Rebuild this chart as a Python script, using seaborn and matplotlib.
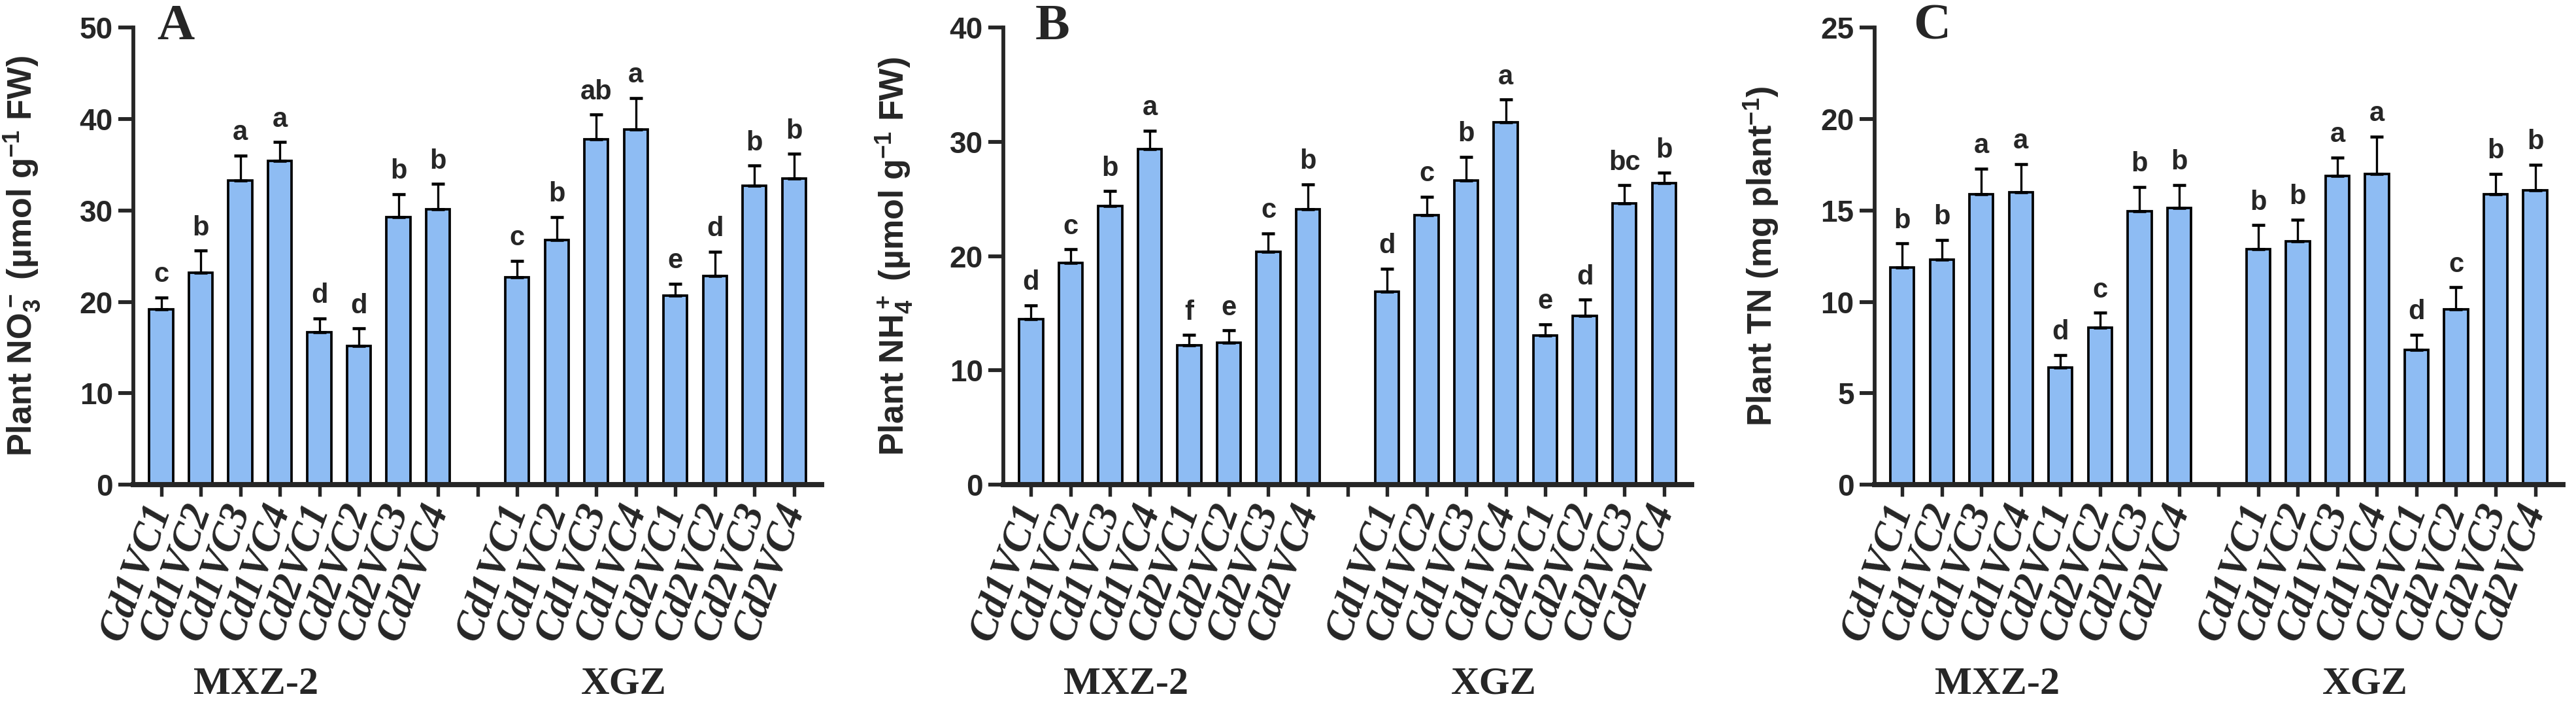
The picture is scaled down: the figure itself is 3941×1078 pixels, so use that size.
import numpy as np
import pandas as pd
import matplotlib
matplotlib.use("Agg")
import matplotlib.pyplot as plt
import seaborn as sns

# ---------------- data ----------------
treatments = ["Cd1VC1", "Cd1VC2", "Cd1VC3", "Cd1VC4", "Cd2VC1", "Cd2VC2", "Cd2VC3", "Cd2VC4"]
cultivars = ["MXZ-2", "XGZ"]

# Panel A: plant NO3-
no3_mxz = [19.2, 23.2, 33.3, 35.4, 16.7, 15.2, 29.3, 30.1]
no3_mxz_se = [1.3, 2.4, 2.7, 2.1, 1.5, 1.9, 2.5, 2.8]
no3_xgz = [22.7, 26.8, 37.8, 38.9, 20.7, 22.8, 32.7, 33.5]
no3_xgz_se = [1.8, 2.5, 2.7, 3.4, 1.3, 2.7, 2.2, 2.7]
no3_mxz_let = ["c", "b", "a", "a", "d", "d", "b", "b"]
no3_xgz_let = ["c", "b", "ab", "a", "e", "d", "b", "b"]

# Panel B: plant NH4+
nh4_mxz = [14.5, 19.4, 24.4, 29.4, 12.2, 12.4, 20.4, 24.1]
nh4_mxz_se = [1.2, 1.2, 1.3, 1.6, 0.9, 1.1, 1.6, 2.2]
nh4_xgz = [16.9, 23.6, 26.6, 31.7, 13.05, 14.8, 24.6, 26.4]
nh4_xgz_se = [2.0, 1.6, 2.1, 2.0, 1.0, 1.4, 1.6, 0.9]
nh4_mxz_let = ["d", "c", "b", "a", "f", "e", "c", "b"]
nh4_xgz_let = ["d", "c", "b", "a", "e", "d", "bc", "b"]

# Panel C: plant TN
tn_mxz = [11.9, 12.3, 15.9, 16.0, 6.4, 8.6, 14.95, 15.15]
tn_mxz_se = [1.3, 1.1, 1.4, 1.55, 0.7, 0.8, 1.35, 1.25]
tn_xgz = [12.9, 13.3, 16.9, 17.0, 7.36, 9.6, 15.9, 16.1]
tn_xgz_se = [1.3, 1.2, 1.0, 2.05, 0.85, 1.2, 1.1, 1.4]
tn_mxz_let = ["b", "b", "a", "a", "d", "c", "b", "b"]
tn_xgz_let = ["b", "b", "a", "a", "d", "c", "b", "b"]

ylabels = [r"Plant NO$_3^-$ (µmol g$^{-1}$ FW)",
           r"Plant NH$_4^+$ (µmol g$^{-1}$ FW)",
           r"Plant TN (mg plant$^{-1}$)"]
panel_letters = ["A", "B", "C"]
ymaxs = [50, 40, 25]
ysteps = [10, 10, 5]

# ---------------- style ----------------
sns.set_style("ticks")
plt.rcParams["font.family"] = ["Liberation Sans", "DejaVu Sans"]
plt.rcParams["font.weight"] = "bold"
plt.rcParams["mathtext.fontset"] = "custom"
plt.rcParams["mathtext.rm"] = "Liberation Sans:bold"
plt.rcParams["mathtext.it"] = "Liberation Sans:bold"
plt.rcParams["mathtext.bf"] = "Liberation Sans:bold"
plt.rcParams["mathtext.default"] = "rm"

BAR_COLOR = "#8EBCF3"
DPI = 300
fig = plt.figure(figsize=(3941 / DPI, 1078 / DPI), dpi=DPI)

lefts = [0.0518, 0.3895, 0.7277]
width = 0.2672
bottom = 0.3126
height = 0.648
ylabel_x = [-0.132, -0.128, -0.136]
letter_x = [0.061, 0.071, 0.083]

panels = [
    (no3_mxz, no3_mxz_se, no3_xgz, no3_xgz_se, no3_mxz_let, no3_xgz_let),
    (nh4_mxz, nh4_mxz_se, nh4_xgz, nh4_xgz_se, nh4_mxz_let, nh4_xgz_let),
    (tn_mxz, tn_mxz_se, tn_xgz, tn_xgz_se, tn_mxz_let, tn_xgz_let),
]

order = [f"{cultivars[0]}|{t}" for t in treatments] + ["gap"] + [f"{cultivars[1]}|{t}" for t in treatments]
tick_labels = treatments + [""] + treatments

for i, (m1, s1, m2, s2, l1, l2) in enumerate(panels):
    ax = fig.add_axes([lefts[i], bottom, width, height])
    df = pd.DataFrame({
        "slot": [f"{cultivars[0]}|{t}" for t in treatments] + [f"{cultivars[1]}|{t}" for t in treatments],
        "value": list(m1) + list(m2),
        "se": list(s1) + list(s2),
        "letter": list(l1) + list(l2),
    })
    sns.barplot(data=df, x="slot", y="value", order=order, color=BAR_COLOR,
                saturation=1, edgecolor="black", linewidth=0.9, width=0.6,
                errorbar=None, ax=ax)
    pos = np.array([order.index(s) for s in df["slot"]])
    vals = df["value"].to_numpy()
    ses = df["se"].to_numpy()
    ax.errorbar(pos, vals, yerr=[np.zeros_like(ses), ses], fmt="none",
                ecolor="black", elinewidth=0.8, capsize=2.3, capthick=1.1, zorder=3)
    for p, v, s, lt in zip(pos, vals, ses, df["letter"]):
        ax.annotate(lt, xy=(p, v + s), xytext=(0, 3.5), textcoords="offset points",
                    ha="center", va="bottom", fontsize=10, fontweight="bold",
                    fontfamily="Liberation Sans")

    ax.set_ylim(0, ymaxs[i])
    ax.set_yticks(np.arange(0, ymaxs[i] + 0.1, ysteps[i]))
    ax.set_xlim(-0.7, 16.7)
    ax.set_xticks(range(len(order)))
    ax.set_xticklabels(tick_labels, rotation=70, ha="right", va="center",
                       rotation_mode="anchor", fontsize=15,
                       fontfamily="Liberation Serif", fontweight="bold", fontstyle="italic")
    for lab in ax.get_yticklabels():
        lab.set_fontsize(11)
        lab.set_fontweight("bold")
    ax.tick_params(axis="y", length=5.5, width=1.4, pad=2)
    ax.tick_params(axis="x", length=4.4, width=1.3, pad=3)
    ax.spines["left"].set_linewidth(1.4)
    ax.spines["bottom"].set_linewidth(1.9)
    sns.despine(ax=ax)
    ax.set_xlabel("")
    ax.set_ylabel(ylabels[i], fontsize=12.5, fontweight="bold")
    ax.yaxis.set_label_coords(ylabel_x[i], 0.5)

    ax.text(letter_x[i], 0.975, panel_letters[i], transform=ax.transAxes,
            ha="center", va="baseline", fontsize=19, fontweight="bold",
            fontfamily="Liberation Serif")
    for gx, gname in zip([2.4, 11.7], cultivars):
        ax.text(gx, -0.438, gname, transform=ax.get_xaxis_transform(),
                ha="center", va="center", fontsize=14.5, fontweight="bold",
                fontfamily="Liberation Serif")

fig.savefig("out.png", dpi=DPI)
